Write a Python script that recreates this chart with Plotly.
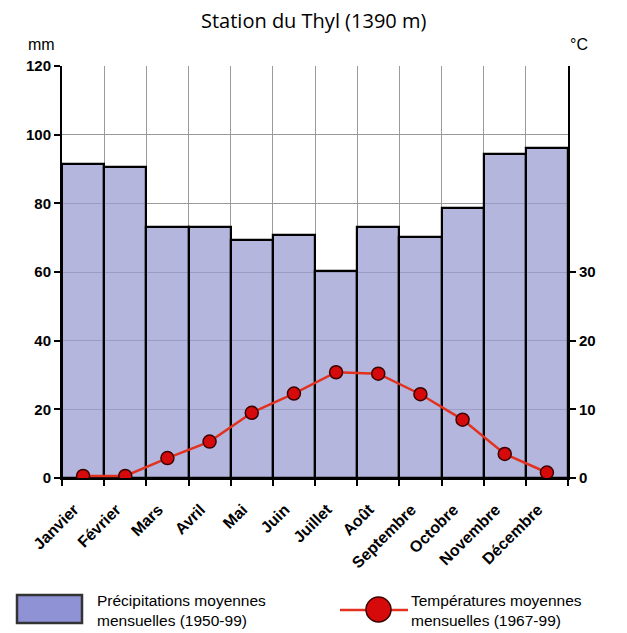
import plotly.graph_objects as go

months = ["Janvier", "Février", "Mars", "Avril", "Mai", "Juin", "Juillet",
          "Août", "Septembre", "Octobre", "Novembre", "Décembre"]
precip_mm = [91.5, 90.5, 73, 73, 69.3, 70.9, 60.2, 73, 70.1, 78.6, 94.4, 96.2]
temp_c = [0.3, 0.3, 2.9, 5.3, 9.5, 12.3, 15.4, 15.2, 12.2, 8.5, 3.5, 0.8]
left_ticks = [0, 20, 40, 60, 80, 100, 120]
right_ticks = [0, 10, 20, 30]

FONT = "Liberation Sans, Arial, sans-serif"

# page offset (browser body margin)
OFF = 8
W, H = 627, 633
L, T = 62 - OFF, 66 - OFF
R = W - (568 - OFF)
B = H - (478 - OFF)
pw, ph = W - L - R, H - T - B

def px(x):
    return (x - OFF - L) / pw

def py(y):
    return (H - B - (y - OFF)) / ph

fig = go.Figure()
fig.add_trace(go.Bar(
    x=months, y=precip_mm, width=1,
    marker=dict(color="rgba(155,158,211,0.75)", line=dict(color="black", width=2.2)),
    showlegend=False, hoverinfo="x+y"))
fig.add_trace(go.Scatter(
    x=months, y=temp_c, yaxis="y2", mode="lines+markers",
    line=dict(color="#e2321f", width=2.5),
    marker=dict(size=13, color="#d60a0a", line=dict(color="#3a0000", width=1.5)),
    showlegend=False))

fig.update_layout(
    width=W, height=H,
    margin=dict(l=L, r=R, t=T, b=B, autoexpand=False),
    paper_bgcolor="white", plot_bgcolor="white",
    bargap=0,
    font=dict(family=FONT, color="black"),
    xaxis=dict(type="category", range=[-0.5, len(months) - 0.5],
               tickson="boundaries", ticks="outside", ticklen=6,
               tickwidth=1.5, tickcolor="black",
               showline=True, linecolor="black", linewidth=2,
               showgrid=True, gridcolor="#9a9a9a", gridwidth=1,
               tickangle=-45, ticklabelstandoff=14, ticklabelshift=-9,
               tickfont=dict(size=16, weight="bold", family=FONT)),
    yaxis=dict(range=[0, 120], tickvals=left_ticks, ticks="outside", ticklen=6,
               tickwidth=1.5, tickcolor="black",
               showline=True, linecolor="black", linewidth=2,
               showgrid=True, gridcolor="#9a9a9a", gridwidth=1, zeroline=False,
               tickfont=dict(size=15, weight="bold", family=FONT)),
    yaxis2=dict(range=[0, 60], tickvals=right_ticks, overlaying="y", side="right",
                ticks="outside", ticklen=6, tickwidth=1.5, tickcolor="black",
                showline=True, linecolor="black", linewidth=2,
                showgrid=False, zeroline=False,
                tickfont=dict(size=15, weight="bold", family=FONT)),
)

ann = [
    ("Station du Thyl (1390 m)", 313, 21, "center", dict(size=20, family="Open Sans, sans-serif")),
    ("mm", 41, 45, "center", dict(size=16)),
    ("°C", 579, 45, "center", dict(size=16)),
    ("Précipitations moyennes<br>mensuelles (1950-99)", 95, 610, "left", dict(size=15.5)),
    ("Températures moyennes<br>mensuelles (1967-99)", 409, 610, "left", dict(size=15.5)),
]
annotations = [dict(text=t, x=px(x), y=py(y), xref="paper", yref="paper",
                    xanchor=xa, yanchor="middle", align="left", showarrow=False, font=f)
               for t, x, y, xa, f in ann]
fig.update_layout(annotations=annotations)

shapes = [
    dict(type="rect", xref="paper", yref="paper", x0=px(17), x1=px(82), y0=py(623), y1=py(595),
         fillcolor="#8f93d6", line=dict(color="#333333", width=2.5)),
    dict(type="line", xref="paper", yref="paper", x0=px(340), x1=px(408), y0=py(610), y1=py(610),
         line=dict(color="#e2321f", width=2.5)),
    dict(type="circle", xref="paper", yref="paper", x0=px(366), x1=px(391), y0=py(622), y1=py(597),
         fillcolor="#d60a0a", line=dict(color="#3a0000", width=1.5)),
]
fig.update_layout(shapes=shapes)

fig.write_html("out.html")
